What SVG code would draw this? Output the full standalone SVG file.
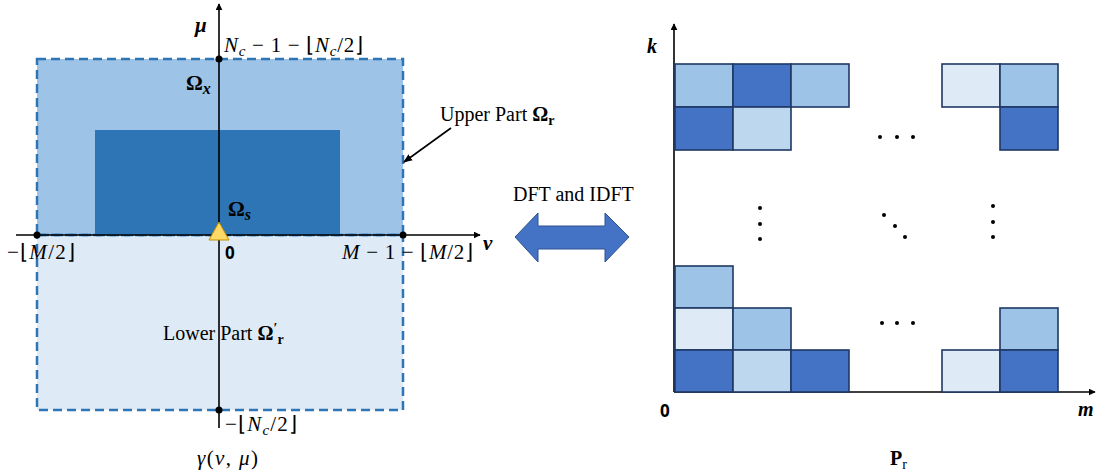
<svg xmlns="http://www.w3.org/2000/svg" width="1096" height="476" viewBox="0 0 1096 476">
<style>
.serif{font-family:"Liberation Serif","Times New Roman",serif;fill:#000}
.math{font-family:"Liberation Serif","Times New Roman",serif;font-style:italic;fill:#000}
.bi{font-family:"Liberation Serif","Times New Roman",serif;font-style:italic;font-weight:bold;fill:#000}
.bold{font-family:"Liberation Serif","Times New Roman",serif;font-weight:bold;fill:#000}
.zero{font-family:"Open Sans","Liberation Sans",sans-serif;font-weight:bold;font-size:17px;fill:#000}
.ax{stroke:#000;stroke-width:1.6;fill:none}
.cell{stroke:#1F3864;stroke-width:1.6}
.c1{fill:#4472C4}.c2{fill:#9DC3E6}.c3{fill:#BDD7EE}.c4{fill:#DEEBF7}
.dash{fill:none;stroke:#2E75B6;stroke-width:2.5;stroke-dasharray:9 5}
</style>
<defs>
<marker id="ah" viewBox="0 0 10 10" refX="9" refY="5" markerWidth="7" markerHeight="7" markerUnits="userSpaceOnUse" orient="auto"><path d="M0,0 L10,5 L0,10 z" fill="#000"/></marker>
<marker id="ah2" viewBox="0 0 10 10" refX="9" refY="5" markerWidth="9" markerHeight="9" markerUnits="userSpaceOnUse" orient="auto"><path d="M0,1 L10,5 L0,9 z" fill="#000"/></marker>
</defs>
<rect width="1096" height="476" fill="#fff"/>

<g id="left-plane">
<rect x="37" y="235" width="366" height="175" fill="#DEEBF7"/>
<rect x="37" y="59" width="366" height="176" fill="#9DC3E6"/>
<rect x="95" y="130" width="245" height="105" fill="#2E75B6"/>
<rect class="dash" x="37" y="59" width="366" height="176"/>
<rect class="dash" x="37" y="235" width="366" height="175"/>
</g>

<g id="connectors">
<line class="ax" x1="219" y1="428" x2="219" y2="4" marker-end="url(#ah)"/>
<line class="ax" x1="16" y1="235" x2="480" y2="235" marker-end="url(#ah)"/>
<line class="ax" x1="451" y1="128" x2="404" y2="162" marker-end="url(#ah2)"/>
<line class="ax" x1="674" y1="392" x2="674" y2="24" marker-end="url(#ah)"/>
<line class="ax" x1="674" y1="392" x2="1095" y2="392" marker-end="url(#ah)"/>
</g>

<g id="points">
<circle cx="219" cy="59" r="3.5"/>
<circle cx="37" cy="235" r="3.5"/>
<circle cx="403" cy="235" r="3.5"/>
<circle cx="219" cy="410" r="3.5"/>
<path d="M219,222 L229,240 L209,240 Z" fill="#FFD966" stroke="#BF9000" stroke-width="1"/>
</g>

<g id="left-labels">
<text class="bi" x="195" y="32" font-size="21">μ</text>
<text class="math" x="224" y="52" font-size="21" textLength="139" lengthAdjust="spacing">N<tspan font-size="15" dy="4">c</tspan><tspan dy="-4" font-style="normal"> − 1 − ⌊</tspan>N<tspan font-size="15" dy="4">c</tspan><tspan dy="-4" font-style="normal">/2⌋</tspan></text>
<text class="bold" x="186" y="90" font-size="21">Ω<tspan class="bi" font-size="16" dy="4">x</tspan></text>
<text class="bold" x="228" y="216" font-size="21">Ω<tspan class="bi" font-size="16" dy="4">s</tspan></text>
<text class="zero" x="225" y="259">0</text>
<text class="math" x="7" y="259" font-size="21" textLength="68" lengthAdjust="spacing"><tspan font-style="normal">−⌊</tspan>M<tspan font-style="normal">/2⌋</tspan></text>
<text class="math" x="342" y="259" font-size="21" textLength="131" lengthAdjust="spacing">M<tspan font-style="normal"> − 1 − ⌊</tspan>M<tspan font-style="normal">/2⌋</tspan></text>
<text class="bi" x="483" y="250" font-size="21">ν</text>
<text class="math" x="225" y="431" font-size="21" textLength="72" lengthAdjust="spacing"><tspan font-style="normal">−⌊</tspan>N<tspan font-size="15" dy="4">c</tspan><tspan dy="-4" font-style="normal">/2⌋</tspan></text>
<text class="math" x="197" y="465" font-size="21" textLength="61" lengthAdjust="spacing">γ<tspan font-style="normal">(</tspan>ν<tspan font-style="normal">, </tspan>μ<tspan font-style="normal">)</tspan></text>
<text class="serif" x="163" y="340" font-size="20">Lower Part <tspan font-weight="bold">Ω</tspan><tspan font-weight="bold" font-size="14" dy="-7">′</tspan><tspan font-weight="bold" font-size="14" dy="11">r</tspan></text>
<text class="serif" x="440" y="121" font-size="20">Upper Part <tspan font-weight="bold">Ω</tspan><tspan font-weight="bold" font-size="14" dy="4">r</tspan></text>
</g>

<g id="dft-arrow">
<path d="M515,237 L538,213 L538,226 L605,226 L605,213 L629,237 L605,262 L605,249 L538,249 L538,262 Z" fill="#4472C4" stroke="#2F528F" stroke-width="1"/>
<text class="serif" x="513" y="201" font-size="20">DFT and IDFT</text>
</g>

<g id="grid-top">
<rect class="cell c2" x="675" y="64" width="58" height="43"/>
<rect class="cell c1" x="733" y="64" width="58" height="43"/>
<rect class="cell c2" x="791" y="64" width="58" height="43"/>
<rect class="cell c1" x="675" y="107" width="58" height="43"/>
<rect class="cell c3" x="733" y="107" width="58" height="43"/>
<rect class="cell c4" x="942" y="64" width="58" height="43"/>
<rect class="cell c2" x="1000" y="64" width="58" height="43"/>
<rect class="cell c1" x="1000" y="107" width="58" height="43"/>
</g>

<g id="grid-bottom">
<rect class="cell c2" x="675" y="266" width="58" height="42"/>
<rect class="cell c4" x="675" y="308" width="58" height="42"/>
<rect class="cell c2" x="733" y="308" width="58" height="42"/>
<rect class="cell c1" x="675" y="350" width="58" height="42"/>
<rect class="cell c3" x="733" y="350" width="58" height="42"/>
<rect class="cell c1" x="791" y="350" width="58" height="42"/>
<rect class="cell c2" x="1000" y="308" width="58" height="42"/>
<rect class="cell c4" x="942" y="350" width="58" height="42"/>
<rect class="cell c1" x="1000" y="350" width="58" height="42"/>
</g>

<g id="ellipses" fill="#000">
<circle cx="880" cy="137" r="2"/><circle cx="897" cy="137" r="2"/><circle cx="913" cy="137" r="2"/>
<circle cx="882" cy="323" r="2"/><circle cx="897" cy="323" r="2"/><circle cx="913" cy="323" r="2"/>
<circle cx="760" cy="208" r="2"/><circle cx="760" cy="224" r="2"/><circle cx="760" cy="239" r="2"/>
<circle cx="993" cy="206" r="2"/><circle cx="993" cy="222" r="2"/><circle cx="993" cy="237" r="2"/>
<circle cx="884" cy="215" r="2"/><circle cx="895" cy="226" r="2"/><circle cx="905" cy="237" r="2"/>
</g>

<g id="right-labels">
<text class="bi" x="647" y="53" font-size="20">k</text>
<text class="zero" x="660" y="417">0</text>
<text class="bi" x="1078" y="416" font-size="20">m</text>
<text class="bold" x="890" y="465" font-size="20">P<tspan font-weight="normal" font-size="14" dy="4">r</tspan></text>
</g>
</svg>
